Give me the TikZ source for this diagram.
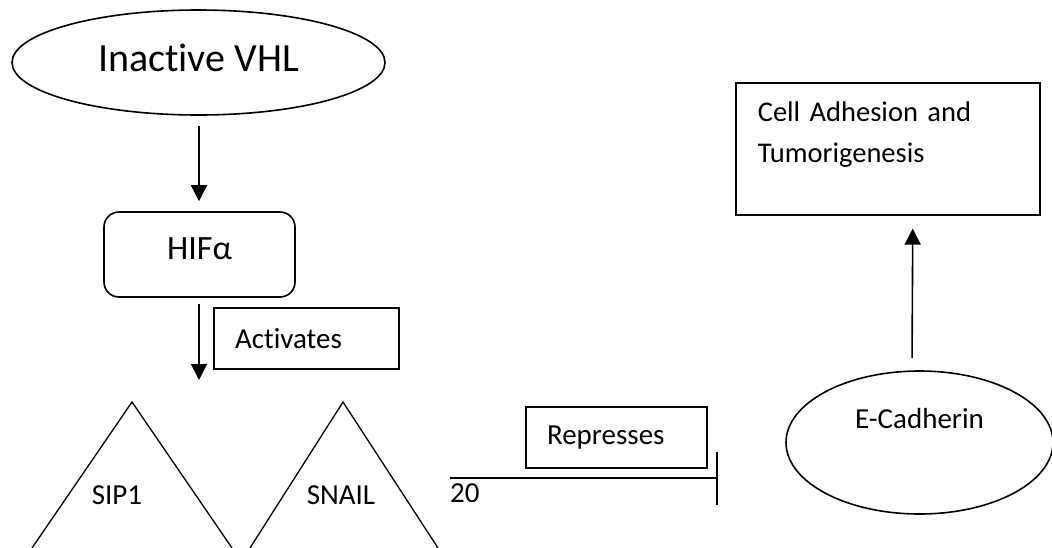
\documentclass[tikz,border=0pt]{standalone}
\usepackage{fontspec}
\setmainfont{Carlito}[Ligatures=NoCommon]
\usetikzlibrary{arrows.meta,shapes.geometric}
\begin{document}
\begin{tikzpicture}[x=1pt,y=-1pt,
  lw/.style={line width=1.6pt},
  txt/.style={font=\fontsize{29}{41}\selectfont},
  arr/.style={lw,-{Triangle[width=16pt,length=16pt]}},
  oval/.style={draw,ellipse,lw,inner sep=0pt},
  labbox/.style={draw,rectangle,lw,txt,align=left,inner ysep=0pt,inner xsep=21pt}]
\useasboundingbox (0,0) rectangle (1052,547);
\clip (0,0) rectangle (1052,547);

% nodes
\node[oval,minimum width=373pt,minimum height=105pt,font=\fontsize{40}{48}\selectfont,
      text height=28pt,text depth=10pt] (vhl) at (198.5,62.5) {Inactive VHL};
\node[draw,lw,rounded corners=15pt,minimum width=191pt,minimum height=85pt,inner sep=0pt,
      font=\fontsize{34}{40}\selectfont,text height=24pt,text depth=15pt] (hif) at (199.5,254.5) {HIFα};
\node[labbox,text width=143pt,minimum height=61pt] (act) at (306.5,338.5) {Activates};
\node[labbox,text width=139pt,minimum height=61pt] (rep) at (616.5,437.5) {Represses};
\node[draw,lw,font=\fontsize{28.5}{41}\selectfont,align=left,anchor=north west,text width=260pt,inner xsep=22pt,inner ysep=0pt,
      text height=39pt,text depth=93pt] (cell) at (735,82) {Cell Adhesion and\\Tumorigenesis};
\node[oval,txt,minimum width=267pt,minimum height=143pt,text height=20pt,text depth=48pt] (ecad) at (919.5,442.5) {E-Cadherin};

% triangles
\draw[line width=1.3pt] (32,548) -- (132,402) -- (232,548);
\draw[line width=1.3pt] (250,548) -- (343,402) -- (438,548);
\node[txt,anchor=base,inner sep=0pt] (sip) at (117,504) {SIP1};
\node[txt,anchor=base,inner sep=0pt] (snail) at (341,504) {SNAIL};
\node[txt,anchor=west,inner sep=0pt] (twenty) at (450,493) {20};

% connectors
\coordinate (hifend) at (199,380);
\coordinate (repstart) at (450,478);
\coordinate (repend) at (718,478);
\draw[arr,shorten <=10pt,shorten >=10pt] ([xshift=0.5pt]vhl.south) -- ([xshift=-0.5pt]hif.north);
\draw[arr,shorten <=6pt] ([xshift=-0.5pt]hif.south) -- (hifend);
\draw[lw,-{Bar[width=53pt]}] (repstart) -- (repend);
\draw[arr,shorten <=12pt,shorten >=13pt] ([xshift=-7.5pt]ecad.north) -- ([xshift=25pt]cell.south);
\end{tikzpicture}
\end{document}
